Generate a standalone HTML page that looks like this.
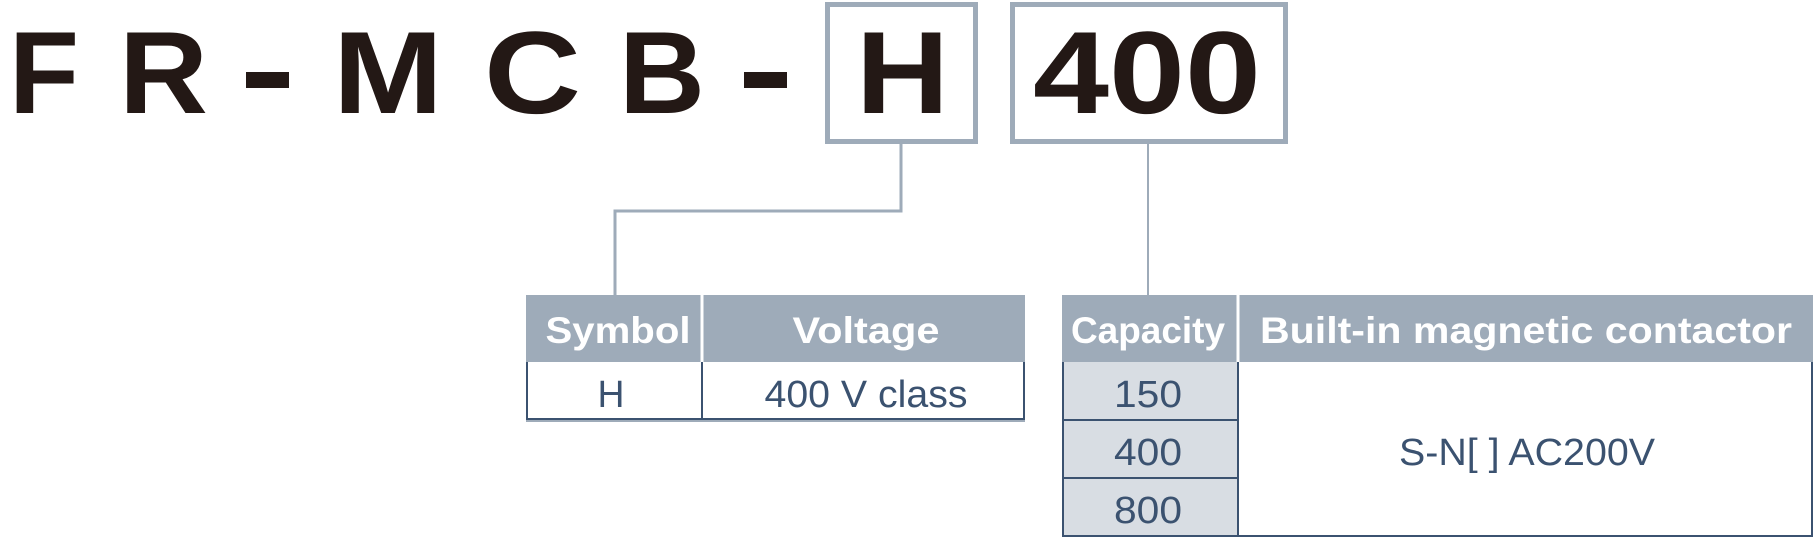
<!DOCTYPE html>
<html><head><meta charset="utf-8"><style>
html,body{margin:0;padding:0;background:#fff;width:1814px;height:538px;overflow:hidden}
</style></head><body>
<svg width="1814" height="538" viewBox="0 0 1814 538" xmlns="http://www.w3.org/2000/svg" font-family="Liberation Sans, sans-serif">
<g fill="#231815" font-weight="bold" font-size="117">
<text x="9" y="113" textLength="70" lengthAdjust="spacingAndGlyphs">F</text>
<text x="119" y="113" textLength="89" lengthAdjust="spacingAndGlyphs">R</text>
<rect x="246" y="72" width="43" height="16"/>
<text x="333" y="113" textLength="110" lengthAdjust="spacingAndGlyphs">M</text>
<text x="484" y="113" textLength="97" lengthAdjust="spacingAndGlyphs">C</text>
<text x="619" y="113" textLength="86" lengthAdjust="spacingAndGlyphs">B</text>
<rect x="744" y="72" width="43" height="16"/>
<text x="856" y="113" textLength="93" lengthAdjust="spacingAndGlyphs">H</text>
<text x="1033" y="113" textLength="228" lengthAdjust="spacingAndGlyphs">400</text>
</g>
<g fill="none" stroke="#9eabb9">
<rect x="827.5" y="4.5" width="148" height="137" stroke-width="5"/>
<rect x="1012.5" y="4.5" width="273" height="137" stroke-width="5"/>
<polyline points="901,143 901,211 615,211 615,296" stroke-width="3"/>
<line x1="1148" y1="143" x2="1148" y2="296" stroke-width="2"/>
</g>
<rect x="526" y="295" width="499" height="67" fill="#9eabb9"/>
<line x1="702" y1="295" x2="702" y2="362" stroke="#fff" stroke-width="3"/>
<rect x="1062" y="295" width="751" height="67" fill="#9eabb9"/>
<line x1="1238" y1="295" x2="1238" y2="362" stroke="#fff" stroke-width="3"/>
<rect x="1063" y="362" width="175" height="174" fill="#d8dde3"/>
<g fill="#fff" font-weight="bold" font-size="37" text-anchor="middle">
<text x="618" y="343" textLength="145" lengthAdjust="spacingAndGlyphs">Symbol</text>
<text x="866" y="343" textLength="147" lengthAdjust="spacingAndGlyphs">Voltage</text>
<text x="1148" y="343" textLength="154" lengthAdjust="spacingAndGlyphs">Capacity</text>
<text x="1526" y="343" textLength="532" lengthAdjust="spacingAndGlyphs">Built-in magnetic contactor</text>
</g>
<g fill="none" stroke="#3b5270" stroke-width="2">
<polyline points="527,362 527,419 1024,419 1024,362"/>
<line x1="702" y1="362" x2="702" y2="419"/>
</g>
<line x1="526" y1="421" x2="1025" y2="421" stroke="#9eabb9" stroke-width="2"/>
<g fill="none" stroke="#3b5270" stroke-width="2">
<polyline points="1063,362 1063,536 1812,536 1812,362"/>
<line x1="1238" y1="362" x2="1238" y2="536"/>
<line x1="1063" y1="420" x2="1238" y2="420"/>
<line x1="1063" y1="478" x2="1238" y2="478"/>
</g>
<g fill="#3b5270" font-size="38" text-anchor="middle">
<text x="611" y="407" textLength="27" lengthAdjust="spacingAndGlyphs">H</text>
<text x="866" y="407" textLength="203" lengthAdjust="spacingAndGlyphs">400 V class</text>
<text x="1148" y="407" textLength="68" lengthAdjust="spacingAndGlyphs">150</text>
<text x="1148" y="465" textLength="68" lengthAdjust="spacingAndGlyphs">400</text>
<text x="1148" y="523" textLength="68" lengthAdjust="spacingAndGlyphs">800</text>
<text x="1527" y="465" textLength="256" lengthAdjust="spacingAndGlyphs">S-N[ ] AC200V</text>
</g>
</svg>
</body></html>
